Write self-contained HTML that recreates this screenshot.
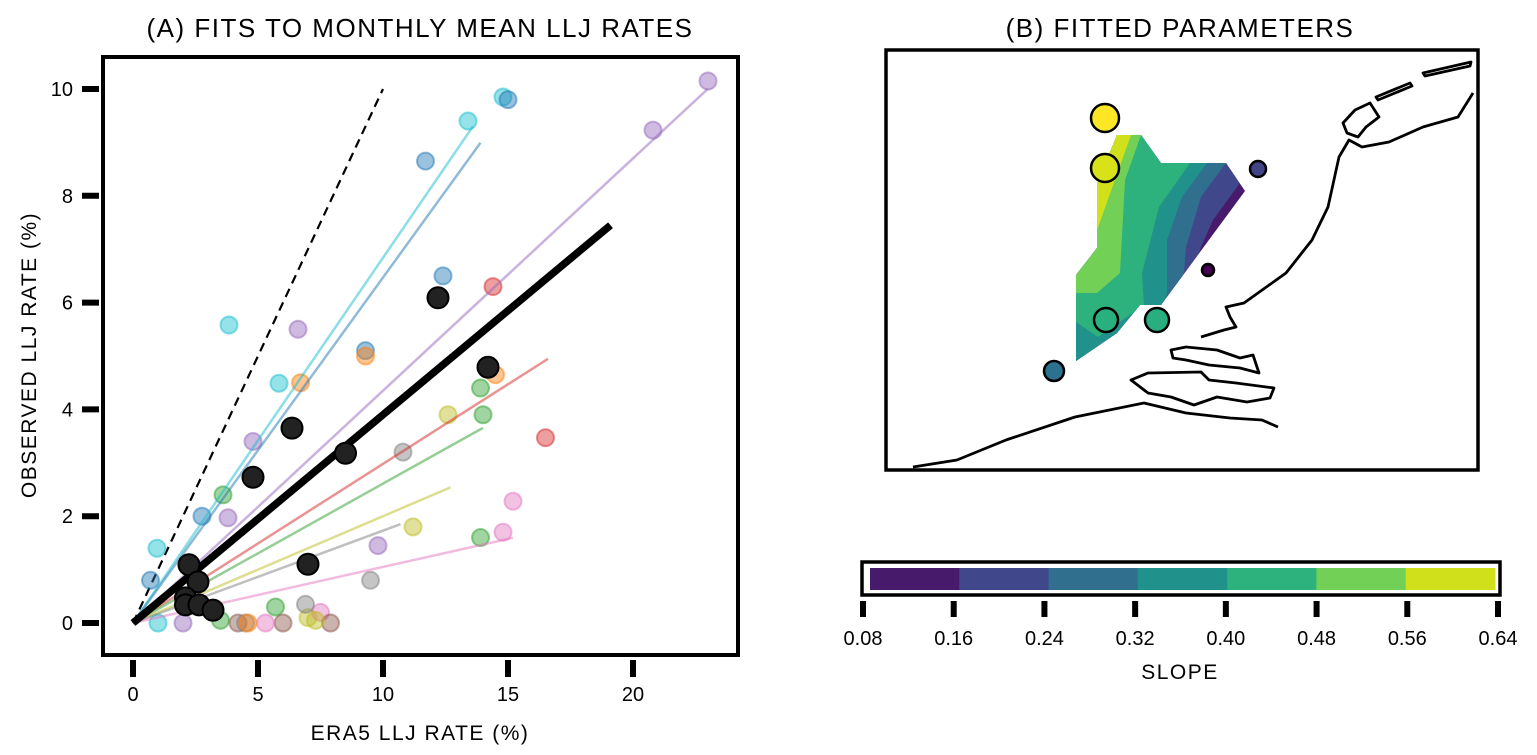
<!DOCTYPE html>
<html><head><meta charset="utf-8"><style>
html,body{margin:0;padding:0;background:#fff;}
svg{display:block;font-family:"Liberation Sans",sans-serif;}
</style></head><body>
<svg id="c" width="1537" height="755" viewBox="0 0 1537 755">
<text x="420" y="37" text-anchor="middle" font-size="26" letter-spacing="1.5">(A) FITS TO MONTHLY MEAN LLJ RATES</text>
<text x="1180" y="37" text-anchor="middle" font-size="26" letter-spacing="1.5">(B) FITTED PARAMETERS</text>
<text x="420" y="740" text-anchor="middle" font-size="21" letter-spacing="1.5">ERA5 LLJ RATE (%)</text>
<text transform="translate(36,355) rotate(-90)" text-anchor="middle" font-size="21" letter-spacing="1.5">OBSERVED LLJ RATE (%)</text>
<g id="plotA"></g>
<g id="mapB"></g>
<g id="cbar"></g>
<text x="1180" y="679" text-anchor="middle" font-size="21" letter-spacing="1.5">SLOPE</text>
</svg>
<script>
const NS="http://www.w3.org/2000/svg";
function mk(tag,attrs,parent){const e=document.createElementNS(NS,tag);for(const k in attrs)e.setAttribute(k,attrs[k]);parent.appendChild(e);return e;}

// ---- Panel A data ----
const xTicks=[0,5,10,15,20];
const yTicks=[0,2,4,6,8,10];
const fitColors=["#17becf","#1f77b4","#9467bd","#d62728","#2ca02c","#bcbd22","#7f7f7f","#e377c2"];
const fitSlopes=[0.684,0.647,0.435,0.298,0.261,0.20,0.173,0.105];
const fitEndX=[13.6,13.9,23,16.6,14,12.7,10.7,15.2];
const meanSlope=0.39;
const meanEndX=19.1;
const pointColors=["#17becf","#17becf","#17becf","#17becf","#17becf","#1f77b4","#1f77b4","#1f77b4","#1f77b4","#1f77b4","#1f77b4","#9467bd","#9467bd","#9467bd","#9467bd","#9467bd","#9467bd","#ff7f0e","#ff7f0e","#ff7f0e","#d62728","#d62728","#2ca02c","#2ca02c","#2ca02c","#2ca02c","#2ca02c","#bcbd22","#bcbd22","#bcbd22","#e377c2","#e377c2","#e377c2","#7f7f7f","#7f7f7f","#7f7f7f","#8c564b","#8c564b","#17becf","#2ca02c","#7f7f7f","#e377c2","#ff7f0e","#8c564b","#9467bd","#bcbd22"];
const pointX=[14.8,13.4,3.84,5.84,0.96,15,11.7,12.4,9.3,2.76,0.7,23,20.8,6.6,4.8,3.8,9.8,9.3,6.7,14.5,16.5,14.4,14,13.9,3.6,5.7,13.9,12.6,11.2,7.0,15.2,14.8,7.5,10.8,6.9,9.5,4.2,6.0,1.0,3.5,4.5,5.3,4.6,7.9,2.0,7.3];
const pointY=[9.85,9.4,5.58,4.49,1.4,9.8,8.65,6.5,5.1,2.0,0.8,10.15,9.23,5.5,3.4,1.97,1.45,5.0,4.5,4.65,3.47,6.3,3.9,4.4,2.4,0.3,1.6,3.9,1.8,0.1,2.28,1.7,0.2,3.2,0.35,0.8,0.0,0.0,0.0,0.05,0.0,0.0,0.0,0.0,0.0,0.05];
const blackX=[2.24,2.6,2.1,2.1,2.64,3.2,4.8,6.36,8.5,7,12.2,14.2];
const blackY=[1.09,0.77,0.47,0.34,0.34,0.24,2.73,3.65,3.18,1.1,6.09,4.79];

const X0=133,XS=25,Y0=623,YS=53.4;
const sx=v=>X0+v*XS, sy=v=>Y0-v*YS;
const A=document.getElementById('plotA');
const frame=mk('rect',{x:103,y:57,width:635,height:598,fill:'none',stroke:'#000','stroke-width':4},A);


xTicks.forEach(t=>{
  const l=mk('line',{x1:sx(t),x2:sx(t),y1:660,y2:677,stroke:'#000','stroke-width':6},A);
  
  
  const tx=mk('text',{x:sx(t),y:701,'text-anchor':'middle','font-size':20},A);tx.textContent=t;
  
  
});
yTicks.forEach(t=>{
  const l=mk('line',{x1:82,x2:99,y1:sy(t),y2:sy(t),stroke:'#000','stroke-width':6},A);
  
  
  const tx=mk('text',{x:73,y:sy(t)+7,'text-anchor':'end','font-size':20},A);tx.textContent=t;
  
  
});
const d=mk('line',{x1:sx(0),y1:sy(0),x2:sx(10),y2:sy(10),stroke:'#000','stroke-width':2.2,'stroke-dasharray':'9,6'},A);


pointX.forEach((v,i)=>{
  const c=mk('circle',{cx:sx(v),cy:sy(pointY[i]),r:8.5,fill:pointColors[i],'fill-opacity':0.45,stroke:pointColors[i],'stroke-opacity':0.5,'stroke-width':2},A);
  
  
});
fitSlopes.forEach((s,i)=>{
  const l=mk('line',{x1:sx(0),y1:sy(0),x2:sx(fitEndX[i]),y2:sy(fitEndX[i]*s),stroke:fitColors[i],'stroke-opacity':0.5,'stroke-width':2.5},A);
  
  
});
const ml=mk('line',{x1:sx(0),y1:sy(0),x2:sx(meanEndX),y2:sy(meanEndX*meanSlope),stroke:'#000','stroke-width':7.5},A);


blackX.forEach((v,i)=>{
  const c=mk('circle',{cx:sx(v),cy:sy(blackY[i]),r:10.5,fill:'#222',stroke:'#000','stroke-width':2},A);
  
  
});

// ---- Panel B ----
const cbColors=["#481a6c","#40478a","#30708e","#21918c","#2db27d","#73d056","#d0e11c"];
const cbTicks=["0.08","0.16","0.24","0.32","0.40","0.48","0.56","0.64"];
const B=document.getElementById('mapB');
const mf=mk('rect',{x:886,y:50,width:592,height:420,fill:'none',stroke:'#000','stroke-width':3.5},B);


const defs=mk('defs',{},B);
const cp=mk('clipPath',{id:'clipC'},defs);
mk('polygon',{points:'1117,135 1141,135 1161,163 1226,163 1245,191 1161,305 1140,305 1117,333 1076,361 1076,275 1097,248 1097,184'},cp);
const cg=mk('g',{'clip-path':'url(#clipC)'},B);


const bands=[
 '1000,100 1300,100 1300,400 1000,400',
 '1000,100 1300,100 1240,183 1213,220 1201,247 1150,400 1000,400',
 '1000,100 1226,100 1226,163 1201,197 1186,247 1184,273 1150,400 1000,400',
 '1000,100 1207,100 1207,163 1182,197 1167,240 1167,293 1140,400 1000,400',
 '1000,100 1190,100 1190,163 1159,207 1142,273 1144,305 1098,337 1076,322 1000,322',
 '1000,100 1141,100 1141,135 1125,180 1120,273 1097,293 1000,293',
 '1000,100 1131,100 1131,135 1097,230 1000,230'];
bands.forEach((p,i)=>{mk('polygon',{points:p,fill:cbColors[i]},cg);});
const coast=[
 'M913,467 L957,460 L1006,440 L1075,417 L1144,403 L1186,413 L1230,418 L1262,420 L1278,427',
 'M1201,337 L1224,330 L1236,327 L1230,317 L1226,307 L1244,303 L1286,273 L1312,240 L1328,207 L1339,157 L1349,140 L1362,147 L1389,142 L1423,127 L1458,117 L1473,93',
 'M1131,380 L1148,373 L1201,372 L1209,380 L1236,383 L1274,388 L1270,398 L1247,402 L1217,397 L1194,405 L1171,397 L1148,393 Z',
 'M1171,350 L1186,347 L1217,350 L1240,358 L1253,355 L1259,373 L1240,368 L1209,365 L1186,360 L1173,358 Z',
 'M1347,133 L1343,123 L1355,110 L1370,103 L1379,117 L1366,127 L1358,137 Z',
 'M1376,97 L1410,83 L1412,86 L1378,100 Z',
 'M1423,73 L1471,62 L1470,66 L1425,76 Z'];
coast.forEach(p=>{const e=mk('path',{d:p,fill:'none',stroke:'#000','stroke-width':2.8,'stroke-linejoin':'round'},B);
 
 });
const stX=[1105,1105,1258,1208,1106,1157,1054];
const stY=[118,168,169,270,320,320,371];
const stR=[14,14,8,6,12,12,10];
const stC=["#fde725","#d8e219","#414487","#440154","#2ab07f","#29af7f","#2c728e"];
stX.forEach((v,i)=>{const c=mk('circle',{cx:v,cy:stY[i],r:stR[i],fill:stC[i],stroke:'#000','stroke-width':2.5},B);
 
 });

// colorbar
const C=document.getElementById('cbar');
const cbx0=870,cbw=(1495-870)/7;
cbColors.forEach((col,i)=>{const r=mk('rect',{x:cbx0+i*cbw,y:568,width:cbw+0.5,height:22,fill:col},C);
 
 });
mk('rect',{x:862,y:562,width:638,height:33,fill:'none',stroke:'#000','stroke-width':3.5},C);
cbTicks.forEach((t,i)=>{const x=863+i*(1498-863)/7;
 const l=mk('line',{x1:x,x2:x,y1:601,y2:617,stroke:'#000','stroke-width':6},C);
 
 
 const tx=mk('text',{x:x,y:645,'text-anchor':'middle','font-size':20},C);tx.textContent=t;
 
 });
</script>
</body></html>
